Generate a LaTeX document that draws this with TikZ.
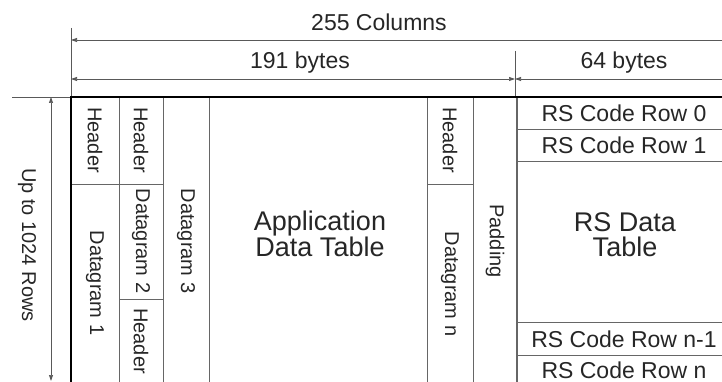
\documentclass[tikz,border=0pt]{standalone}
\usepackage{fontspec}
\setmainfont{Liberation Sans}
\usetikzlibrary{arrows.meta}

\begin{document}
\begin{tikzpicture}[x=1pt,y=-1pt,>={Triangle[length=6pt,width=4pt]},
  dim/.style={draw=black!65,line width=0.7pt},
  grid line/.style={draw=black!60,line width=0.9pt},
  thick line/.style={draw=black,line width=2.2pt},
  hlabel/.style={inner sep=0pt,text=black!85,font=\fontsize{23}{25}\selectfont},
  vlabel/.style={inner sep=0pt,text=black!85,rotate=-90,font=\fontsize{20}{22}\selectfont},
  big label/.style={inner sep=0pt,text=black!85,align=center,font=\fontsize{27}{25}\selectfont}]
  \useasboundingbox (0,0) rectangle (722,382);
  % dimension lines
  \coordinate (colsL) at (71,40);
  \coordinate (colsR) at (722,40);
  \coordinate (bytesL) at (71,79);
  \coordinate (bytesM) at (515,79);
  \coordinate (bytesR) at (722,79);
  \coordinate (rowsT) at (51,97);
  \coordinate (rowsB) at (51,381);
  \draw[dim] (71,28) -- (71,97);
  \draw[dim] (515,51) -- (515,97);
  \draw[dim] (12,97) -- (71,97);
  \draw[dim,<-] (colsL) -- (colsR);
  \draw[dim,<->] (bytesL) -- (bytesM);
  \draw[dim,<-] (bytesM) -- (bytesR);
  \draw[dim,<->] (rowsT) -- (rowsB);
  \node[hlabel] (cols) at (379,22) {255 Columns};
  \node[hlabel] (app bytes) at (300,63) {191 bytes};
  \node[hlabel] (rs bytes) at (624,63) {64 bytes};
  \node[vlabel] (rows) at (27,245) {Up to 1024 Rows};
  % table
  \foreach \x in {119,163,209,427,473}
    \draw[grid line] (\x,97) -- (\x,382);
  \draw[grid line,line width=1.4pt] (517,97) -- (517,382);
  \draw[grid line] (71,184) -- (163,184);
  \draw[grid line] (119,299) -- (163,299);
  \draw[grid line] (427,184) -- (473,184);
  \foreach \y in {129,161,322,355}
    \draw[grid line] (517,\y) -- (722,\y);
  \draw[thick line] (71,97) -- (722,97);
  \draw[thick line] (71,96) -- (71,382);
  % cells
  \node[vlabel] (hdr1) at (95,140) {Header};
  \node[vlabel] (dg1) at (95,283) {Datagram 1};
  \node[vlabel] (hdr2) at (141,140) {Header};
  \node[vlabel] (dg2) at (141,241) {Datagram 2};
  \node[vlabel] (hdr3) at (141,341) {Header};
  \node[vlabel] (dg3) at (186,241) {Datagram 3};
  \node[big label] (adt) at (320,234) {Application\\Data Table};
  \node[vlabel] (hdrn) at (450,140) {Header};
  \node[vlabel] (dgn) at (450,284) {Datagram n};
  \node[vlabel] (pad) at (495,241) {Padding};
  \node[hlabel] (rs0) at (624,113) {RS Code Row 0};
  \node[hlabel] (rs1) at (624,145) {RS Code Row 1};
  \node[big label] (rsdt) at (625,235) {RS Data\\Table};
  \node[hlabel] (rsn1) at (624,339) {RS Code Row n-1};
  \node[hlabel] (rsn) at (624,370) {RS Code Row n};
\end{tikzpicture}
\end{document}
